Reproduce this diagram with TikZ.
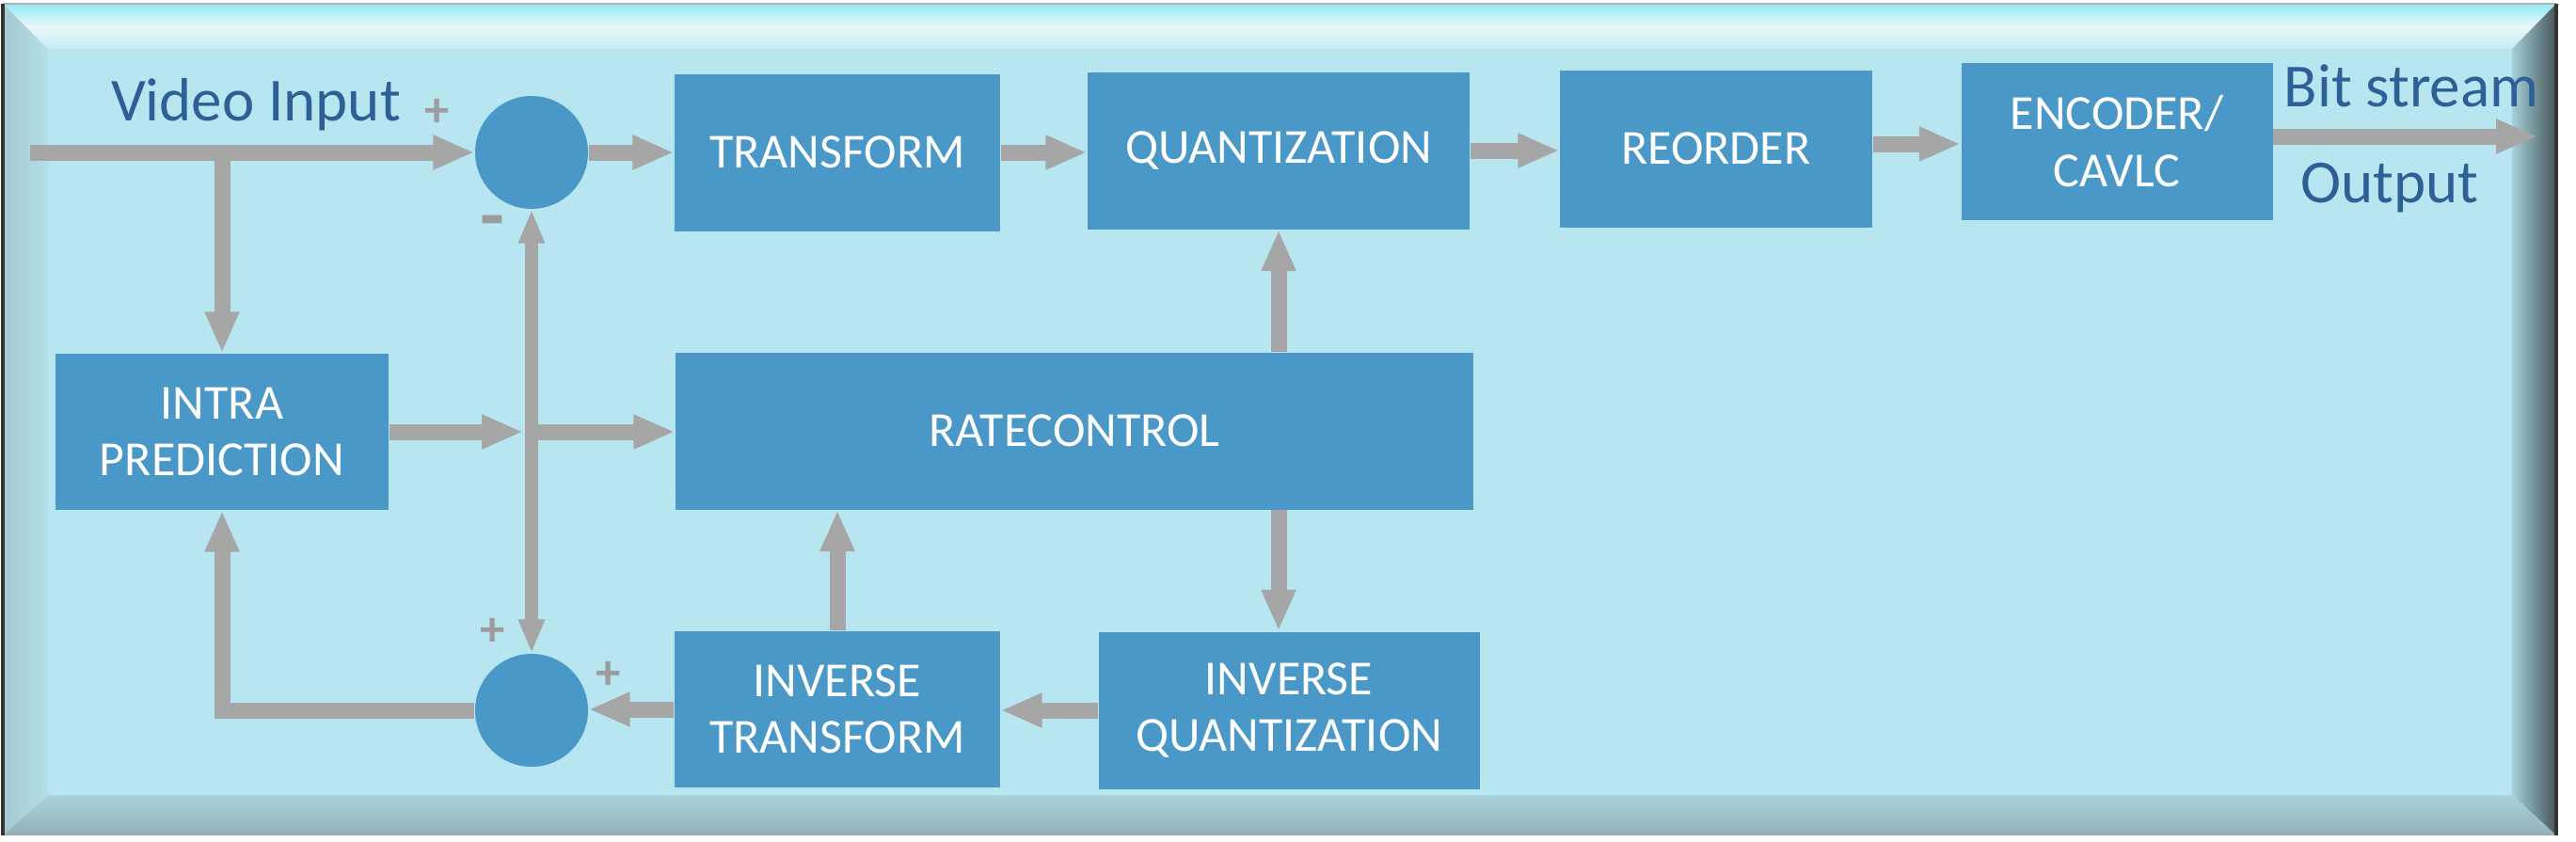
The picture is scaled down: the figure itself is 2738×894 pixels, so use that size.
\documentclass[tikz,border=0pt]{standalone}
\usepackage{fontspec}
\setmainfont{Carlito}
\usetikzlibrary{arrows.meta}
\definecolor{fieldcyan}{HTML}{B7E6F0}
\definecolor{boxblue}{HTML}{4A98C7}
\definecolor{flowgray}{HTML}{A6A6A6}
\definecolor{signgray}{HTML}{9C9C9C}
\definecolor{labelblue}{HTML}{2E5F96}
\begin{document}
\begin{tikzpicture}[x=0.1mm,y=-0.1mm,
    block/.style={fill=boxblue,text=white,align=center,inner sep=0pt,
      font=\fontsize{14.8}{17.2}\selectfont},
    adder/.style={circle,fill=boxblue,minimum size=12mm,inner sep=0pt},
    flowarrow/.style={draw=flowgray,line width=1.7mm,-{Triangle[length=4.4mm,width=3.4mm]}},
    thinarrow/.style={draw=flowgray,line width=1.4mm,
      {Triangle[length=3.6mm,width=2.6mm]}-{Triangle[length=3.6mm,width=2.6mm]}},
    sign/.style={text=signgray,font=\fontsize{15}{15}\selectfont\bfseries},
    caption/.style={text=labelblue,font=\fontsize{18.5}{20}\selectfont,anchor=base}]
  \useasboundingbox (0,0) rectangle (2738,894);
  % bevelled frame
  \fill[white] (0,0) rectangle (2738,894);
  \fill[fieldcyan] (51,52) rectangle (2670,845);
  \shade[top color=cyan!20!fieldcyan,bottom color=fieldcyan!80!white,middle color=fieldcyan!30!white]
    (3,4) -- (2717,4) -- (2670,52) -- (51,52) -- cycle;
  \shade[left color=fieldcyan!70!gray,right color=fieldcyan!97!black]
    (3,4) -- (51,52) -- (51,845) -- (3,888) -- cycle;
  \shade[left color=fieldcyan!90!black,right color=fieldcyan!38!black]
    (2717,4) -- (2717,888) -- (2670,845) -- (2670,52) -- cycle;
  \shade[top color=fieldcyan!92!black,bottom color=fieldcyan!65!gray!90!black]
    (3,888) -- (2717,888) -- (2670,845) -- (51,845) -- cycle;
  \draw[gray!60,line width=0.2mm] (3,4) -- (2717,4);
  \draw[gray!40!black,line width=0.35mm] (3,4) -- (3,888) (2717,4) -- (2717,888);

  \node[block,minimum width=34.6mm,minimum height=16.7mm] (trans) at (890,162) {TRANSFORM};
  \node[block,minimum width=40.6mm,minimum height=16.7mm] (quant) at (1359,160) {QUANTIZATION};
  \node[block,minimum width=33.2mm,minimum height=16.7mm] (reorder) at (1824,158) {REORDER};
  \node[block,minimum width=33.1mm,minimum height=16.7mm] (encoder) at (2250,150) {ENCODER/\\CAVLC};
  \node[block,minimum width=35.4mm,minimum height=16.6mm] (intra) at (236,459) {INTRA\\PREDICTION};
  \node[block,minimum width=84.8mm,minimum height=16.7mm] (rate) at (1142,458) {RATECONTROL};
  \node[block,minimum width=34.6mm,minimum height=16.6mm] (invtrans) at (890,754) {INVERSE\\TRANSFORM};
  \node[block,minimum width=40.5mm,minimum height=16.7mm] (invquant) at (1370,755) {INVERSE\\QUANTIZATION};
  \node[adder] (sub) at (565,162) {};
  \node[adder] (add) at (565,755) {};

  \coordinate (vin) at (32,162);
  \coordinate (split) at (236,162);
  \coordinate (join) at (563,459);
  \coordinate (vout) at (2697,145);

  \draw[flowarrow] (vin) -- (sub.west);
  \draw[flowarrow] (split) -- (intra.north);
  \draw[flowarrow] (sub.east) -- (trans.west);
  \draw[flowarrow] (trans.east) -- (trans.east -| quant.west);
  \draw[flowarrow] (quant.east) -- (quant.east -| reorder.west);
  \draw[flowarrow] ([yshift=0.5mm]reorder.east) -- ([yshift=0.5mm]reorder.east -| encoder.west);
  \draw[flowarrow] (encoder.east |- vout) -- (vout);
  \draw[thinarrow] (sub.south) -- (add.north);
  \draw[flowarrow] (intra.east) -- ([xshift=-0.7mm]join);
  \draw[flowarrow] (join) -- (join -| rate.west);
  \draw[flowarrow] (quant.south |- rate.north) -- (quant.south);
  \draw[flowarrow] (rate.south -| quant.south) -- (invquant.north -| quant.south);
  \draw[flowarrow] (invtrans.north) -- (invtrans.north |- rate.south);
  \draw[flowarrow] (invquant.west) -- (invquant.west -| invtrans.east);
  \draw[flowarrow] (invtrans.west) -- (invtrans.west -| add.east);
  \draw[flowarrow] (add.west) -| (intra.south);

  \node[caption] (vinlabel) at (272,128) {Video Input};
  \node[caption] (bitlabel) at (2563,113) {Bit stream};
  \node[caption] (outlabel) at (2540,215) {Output};
  \node[sign] (subplus) at (465,120) {+};
  \node[sign,font=\fontsize{24}{24}\selectfont\bfseries] (subminus) at (523,243) {-};
  \node[sign] (addplus) at (524,672) {+};
  \node[sign] (addplusright) at (647,718) {+};
\end{tikzpicture}
\end{document}
